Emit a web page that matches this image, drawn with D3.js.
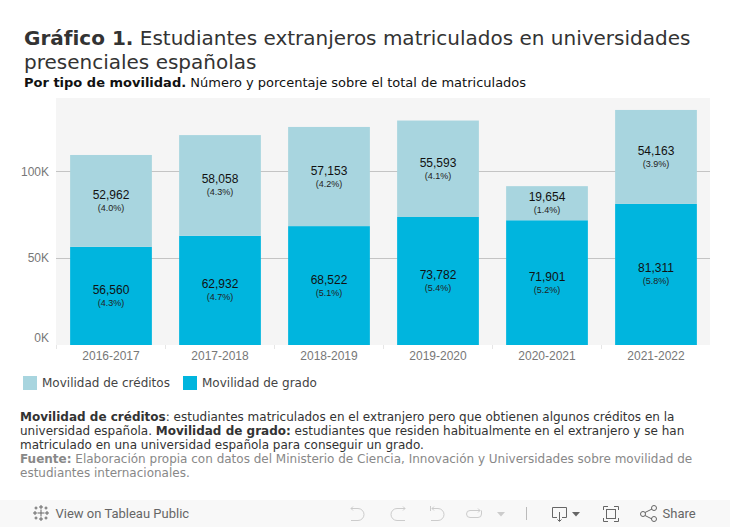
<!DOCTYPE html>
<html lang="es">
<head>
<meta charset="utf-8">
<title>Gráfico 1</title>
<script src="https://cdn.jsdelivr.net/npm/d3@7"></script>
<style>
  html, body { margin: 0; padding: 0; background: #fff; overflow: hidden; }
  svg { display: block; }
  .sans { font-family: "DejaVu Sans", sans-serif; }
  .arial { font-family: "Liberation Sans", Arial, sans-serif; }
  .axis-tick { font-size: 12px; fill: #777; }
</style>
</head>
<body>
<div id="chart"></div>
<script>
var years = ['2016-2017', '2017-2018', '2018-2019', '2019-2020', '2020-2021', '2021-2022'];
var grado = [56560, 62932, 68522, 73782, 71901, 81311];
var creditos = [52962, 58058, 57153, 55593, 19654, 54163];
var gradoPct = ['(4.3%)', '(4.7%)', '(5.1%)', '(5.4%)', '(5.2%)', '(5.8%)'];
var creditosPct = ['(4.0%)', '(4.3%)', '(4.2%)', '(4.1%)', '(1.4%)', '(3.9%)'];
var yTicks = [0, 50000, 100000];

var COLOR_GRADO = '#00B5DE';
var COLOR_CREDITOS = '#A8D5DF';
var width = 730, height = 527;

var svg = d3.select('#chart').append('svg')
  .attr('width', width)
  .attr('height', height);

// ---- Title block -----------------------------------------------------------
var title = svg.append('text').attr('class', 'sans')
  .attr('x', 24).attr('y', 45)
  .attr('font-size', 20).attr('fill', '#333');
title.append('tspan').attr('font-weight', 'bold').text('Gráfico 1.');
title.append('tspan').text(' Estudiantes extranjeros matriculados en universidades');

svg.append('text').attr('class', 'sans')
  .attr('x', 24).attr('y', 69)
  .attr('font-size', 20).attr('fill', '#333')
  .text('presenciales españolas');

var sub = svg.append('text').attr('class', 'sans')
  .attr('x', 24).attr('y', 87)
  .attr('font-size', 13).attr('fill', '#111');
sub.append('tspan').attr('font-weight', 'bold').text('Por tipo de movilidad.');
sub.append('tspan').text(' Número y porcentaje sobre el total de matriculados');

// ---- Plot ------------------------------------------------------------------
var x = d3.scaleBand().domain(years).range([56.5, 710.5]).paddingInner(0.25).paddingOuter(0.125);
var y = d3.scaleLinear().domain([0, 100000]).range([345, 171.5]);

svg.append('rect')
  .attr('x', 56).attr('y', 98)
  .attr('width', 654).attr('height', 247)
  .attr('fill', '#F5F5F5');

svg.append('g').selectAll('line')
  .data(yTicks.slice(1))
  .join('line')
  .attr('x1', 56).attr('x2', 710)
  .attr('y1', function(d) { return Math.floor(y(d)) + 0.5; })
  .attr('y2', function(d) { return Math.floor(y(d)) + 0.5; })
  .attr('stroke', '#C4C4C4').attr('stroke-width', 1);

// y tick labels sit just above their gridline, as Tableau draws them
svg.append('g').selectAll('text')
  .data(yTicks)
  .join('text')
  .attr('class', 'arial axis-tick')
  .attr('x', 49)
  .attr('y', function(d) { return y(d) - (d === 0 ? 3 : -4); })
  .attr('text-anchor', 'end')
  .text(function(d) { return (d / 1000) + 'K'; });

svg.append('g').selectAll('rect')
  .data(years)
  .join('rect')
  .attr('x', function(d) { return x(d); })
  .attr('width', x.bandwidth())
  .attr('y', function(d, i) { return y(grado[i]); })
  .attr('height', function(d, i) { return y(0) - y(grado[i]); })
  .attr('fill', COLOR_GRADO);

svg.append('g').selectAll('rect')
  .data(years)
  .join('rect')
  .attr('x', function(d) { return x(d); })
  .attr('width', x.bandwidth())
  .attr('y', function(d, i) { return y(grado[i] + creditos[i]); })
  .attr('height', function(d, i) { return y(grado[i]) - y(grado[i] + creditos[i]); })
  .attr('fill', COLOR_CREDITOS);

// Value labels, centred in each segment
function addLabels(base, values, pcts) {
  var g = svg.append('g').attr('class', 'arial').attr('text-anchor', 'middle');
  years.forEach(function(year, i) {
    var cx = x(year) + x.bandwidth() / 2;
    var cy = (y(base[i]) + y(base[i] + values[i])) / 2;
    g.append('text')
      .attr('x', cx).attr('y', cy - 2)
      .attr('font-size', 12).attr('fill', '#111')
      .text(d3.format(',')(values[i]));
    g.append('text')
      .attr('x', cx).attr('y', cy + 10)
      .attr('font-size', 9).attr('fill', '#222')
      .text(pcts[i]);
  });
}
addLabels(years.map(function() { return 0; }), grado, gradoPct);
addLabels(grado, creditos, creditosPct);

// x axis: small separators and year labels
var xEdges = years.map(function(d) { return x(d) - x.step() * 0.125; });
svg.append('g').selectAll('line')
  .data(xEdges)
  .join('line')
  .attr('x1', function(d) { return d; }).attr('x2', function(d) { return d; })
  .attr('y1', 345).attr('y2', 349)
  .attr('stroke', '#E6E6E6');

svg.append('g').selectAll('text')
  .data(years)
  .join('text')
  .attr('class', 'arial axis-tick')
  .attr('x', function(d) { return x(d) + x.bandwidth() / 2; })
  .attr('y', 360)
  .attr('text-anchor', 'middle')
  .text(function(d) { return d; });

// ---- Legend ----------------------------------------------------------------
var legend = [
  { label: 'Movilidad de créditos', color: COLOR_CREDITOS, x: 23 },
  { label: 'Movilidad de grado', color: COLOR_GRADO, x: 183 }
];
var lg = svg.append('g').selectAll('g').data(legend).join('g')
  .attr('transform', function(d) { return 'translate(' + d.x + ',376)'; });
lg.append('rect').attr('width', 14).attr('height', 14)
  .attr('fill', function(d) { return d.color; });
lg.append('text').attr('class', 'sans')
  .attr('x', 19).attr('y', 11)
  .attr('font-size', 12).attr('fill', '#444')
  .text(function(d) { return d.label; });

// ---- Notes -----------------------------------------------------------------
var notes = [
  { y: 421, parts: [['Movilidad de créditos', 1], [': estudiantes matriculados en el extranjero pero que obtienen algunos créditos en la', 0]] },
  { y: 435, parts: [['universidad española. ', 0], ['Movilidad de grado:', 1], [' estudiantes que residen habitualmente en el extranjero y se han', 0]] },
  { y: 449, parts: [['matriculado en una universidad española para conseguir un grado.', 0]] },
  { y: 463, color: '#888', parts: [['Fuente:', 1], [' Elaboración propia con datos del Ministerio de Ciencia, Innovación y Universidades sobre movilidad de', 0]] },
  { y: 477, color: '#888', parts: [['estudiantes internacionales.', 0]] }
];
notes.forEach(function(n) {
  var t = svg.append('text').attr('class', 'sans')
    .attr('x', 20).attr('y', n.y)
    .attr('font-size', 12).attr('fill', n.color || '#333');
  n.parts.forEach(function(p) {
    t.append('tspan').attr('font-weight', p[1] ? 'bold' : 'normal').text(p[0]);
  });
});

// ---- Tableau toolbar -------------------------------------------------------
var bar = svg.append('g');
bar.append('rect').attr('x', 0).attr('y', 500).attr('width', width).attr('height', 27).attr('fill', '#F8F8F8');

var logo = bar.append('g').attr('stroke', '#666').attr('fill', 'none').attr('stroke-width', 1);
[[41, 513, 3.5], [35, 513, 2], [47, 513, 2], [41, 507, 2], [41, 519, 2], [36, 508, 1.5], [46, 508, 1.5], [36, 518, 1.5], [46, 518, 1.5]].forEach(function(c) {
  logo.append('path').attr('d', 'M' + (c[0] - c[2]) + ',' + c[1] + 'H' + (c[0] + c[2]) + 'M' + c[0] + ',' + (c[1] - c[2]) + 'V' + (c[1] + c[2]));
});

bar.append('text').attr('x', 55.5).attr('y', 518)
  .attr('font-family', 'Roboto, sans-serif').attr('font-size', 13).attr('fill', '#666')
  .text('View on Tableau Public');

var icons = bar.append('g').attr('fill', 'none').attr('stroke-width', 1);
var disabled = '#CCC', active = '#666';
icons.append('path').attr('stroke', disabled).attr('d', 'M351,508.5H358A6,6 0 0 1 358,520.5H351M353,506.5L351,508.5L353,510.5');
icons.append('path').attr('stroke', disabled).attr('d', 'M405,508.5H397A6,6 0 0 0 397,520.5H405M403,506.5L405,508.5L403,510.5');
icons.append('path').attr('stroke', disabled).attr('d', 'M430.5,506V511M432,508.5H438A6,6 0 0 1 438,520.5H431M434,506.5L432,508.5L434,510.5');
icons.append('path').attr('stroke', disabled).attr('d', 'M480,510.5H470A3.5,3.5 0 0 0 470,517.5H478A3.5,3.5 0 0 0 481.5,514V510.5M478,508.5L480,510.5L478,512.5');
icons.append('path').attr('fill', disabled).attr('stroke', 'none').attr('d', 'M497,512h8l-4,4.5z');
icons.append('line').attr('stroke', '#BBB').attr('x1', 526.5).attr('x2', 526.5).attr('y1', 507).attr('y2', 520);
icons.append('path').attr('stroke', active).attr('d', 'M557,517.5H552.5V507.5H566.5V517.5H562M559.5,512V521M557.5,519.5L559.5,521.5L561.5,519.5');
icons.append('path').attr('fill', active).attr('stroke', 'none').attr('d', 'M572,512h8l-4,4.5z');
icons.append('path').attr('stroke', active).attr('d', 'M603.5,510V506.5H608M614,506.5H618.5V510M618.5,518V521.5H614M608,521.5H603.5V518');
icons.append('rect').attr('stroke', active).attr('x', 606.5).attr('y', 509.5).attr('width', 9).attr('height', 9);
icons.append('path').attr('stroke', active).attr('d', 'M645,512.5L652,509M645,515.5L652,519');
icons.append('circle').attr('stroke', active).attr('cx', 643).attr('cy', 514).attr('r', 2.5);
icons.append('circle').attr('stroke', active).attr('cx', 654).attr('cy', 508).attr('r', 2.5);
icons.append('circle').attr('stroke', active).attr('cx', 654).attr('cy', 519).attr('r', 2.5);

bar.append('text').attr('x', 662.5).attr('y', 518)
  .attr('font-family', 'Roboto, sans-serif').attr('font-size', 13).attr('fill', '#666')
  .text('Share');
</script>
</body>
</html>
